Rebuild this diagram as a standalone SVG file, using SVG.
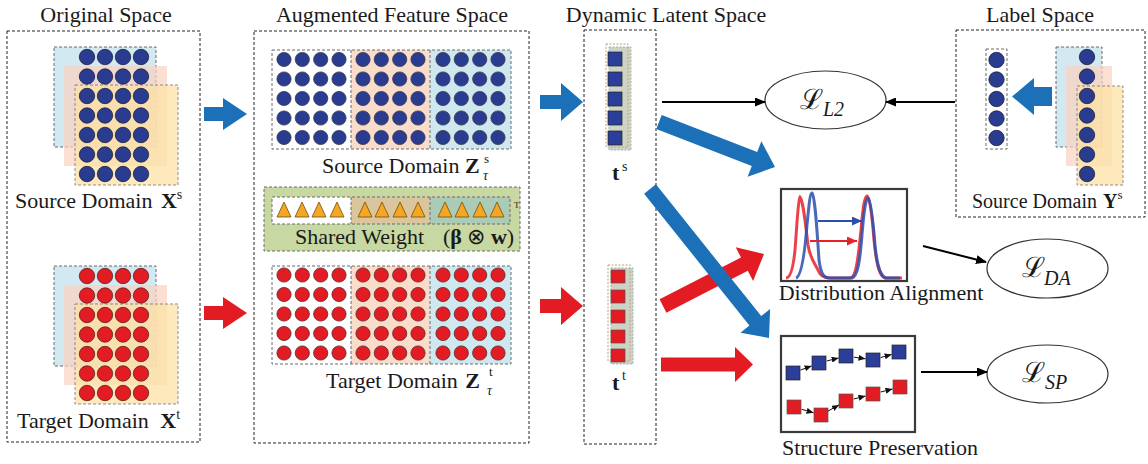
<svg xmlns="http://www.w3.org/2000/svg" width="1148" height="464" viewBox="0 0 1148 464">
<style>
text{font-family:"Liberation Serif","Times New Roman",serif;fill:#1a1a1a}
.t{font-size:22px}
.b{font-weight:bold}
.box{fill:none;stroke:#222;stroke-width:1;stroke-dasharray:3 2}
.dl{stroke:#6a6a6a;stroke-width:1;stroke-dasharray:3 2}
.bl{fill:#d3e9f1}
.pk{fill:#fbd2c0;opacity:0.7}
.yl{fill:#fde2a6;opacity:0.75}
.ba{fill:#1b70b8}
.ra{fill:#e31b23}
.conn{stroke:#000;stroke-width:2;fill:none}
.ell{fill:#fff;stroke:#333;stroke-width:1.2}
.frame{fill:#fff;stroke:#3a3a3a;stroke-width:2.2}
.sqb{fill:#2b3f9a;stroke:#222;stroke-width:0.7}
.sqr{fill:#e31b23;stroke:#555;stroke-width:0.7}
.tri{fill:#f6a623;stroke:#6b5012;stroke-width:0.8}
.sub{font-style:italic;font-size:20px}
.cal{font-size:28px;font-family:"DejaVu Serif","Liberation Serif",serif}
</style>
<defs>
<circle id="cb" r="7.7" fill="#2a3c90" stroke="#20203a" stroke-width="0.8"/>
<circle id="cr" r="7.7" fill="#e31c24" stroke="#5a2020" stroke-width="0.8"/>
<circle id="cbs" r="7.1" fill="#2a3c90" stroke="#3a3a4a" stroke-width="0.8"/>
<circle id="crs" r="7.1" fill="#e31c24" stroke="#5a2a2a" stroke-width="0.8"/>
<marker id="ah" markerWidth="11" markerHeight="9" refX="10" refY="4.5" orient="auto" markerUnits="userSpaceOnUse"><path d="M0,0 L11,4.5 L0,9 Z" fill="#000"/></marker>
<marker id="sa" markerWidth="7" markerHeight="6" refX="7" refY="3" orient="auto" markerUnits="userSpaceOnUse"><path d="M0,0 L7,3 L0,6 Z" fill="#111"/></marker>
<marker id="bah" markerWidth="10" markerHeight="9" refX="10" refY="4.5" orient="auto" markerUnits="userSpaceOnUse"><path d="M0,0 L10,4.5 L0,9 Z" fill="#2c4fae"/></marker>
<marker id="rah" markerWidth="10" markerHeight="9" refX="10" refY="4.5" orient="auto" markerUnits="userSpaceOnUse"><path d="M0,0 L10,4.5 L0,9 Z" fill="#e8212a"/></marker>
</defs>

<g id="original-space">
<rect class="box" x="7" y="31" width="193" height="411"/>
<text class="t" x="106" y="22" text-anchor="middle">Original Space</text>
<g id="source-x">
<rect class="bl dl" x="54" y="47" width="102" height="100"/>
<rect class="pk" x="64" y="66" width="103" height="100"/>
<rect class="yl dl" x="75" y="85" width="103" height="100"/>
<use href="#cb" x="87" y="57"/><use href="#cb" x="105" y="57"/><use href="#cb" x="123" y="57"/><use href="#cb" x="141" y="57"/>
<use href="#cb" x="87" y="76.5"/><use href="#cb" x="105" y="76.5"/><use href="#cb" x="123" y="76.5"/><use href="#cb" x="141" y="76.5"/>
<use href="#cb" x="87" y="96"/><use href="#cb" x="105" y="96"/><use href="#cb" x="123" y="96"/><use href="#cb" x="141" y="96"/>
<use href="#cb" x="87" y="115.5"/><use href="#cb" x="105" y="115.5"/><use href="#cb" x="123" y="115.5"/><use href="#cb" x="141" y="115.5"/>
<use href="#cb" x="87" y="135"/><use href="#cb" x="105" y="135"/><use href="#cb" x="123" y="135"/><use href="#cb" x="141" y="135"/>
<use href="#cb" x="87" y="154.5"/><use href="#cb" x="105" y="154.5"/><use href="#cb" x="123" y="154.5"/><use href="#cb" x="141" y="154.5"/>
<use href="#cb" x="87" y="174"/><use href="#cb" x="105" y="174"/><use href="#cb" x="123" y="174"/><use href="#cb" x="141" y="174"/>
<text class="t" x="15" y="208">Source Domain <tspan class="b" dx="3">X</tspan><tspan font-size="14" dy="-9">s</tspan></text>
</g>
<g id="target-x">
<rect class="bl dl" x="54" y="266" width="102" height="100"/>
<rect class="pk" x="64" y="285" width="103" height="100"/>
<rect class="yl dl" x="75" y="304" width="103" height="100"/>
<use href="#cr" x="87" y="276"/><use href="#cr" x="105" y="276"/><use href="#cr" x="123" y="276"/><use href="#cr" x="141" y="276"/>
<use href="#cr" x="87" y="295.5"/><use href="#cr" x="105" y="295.5"/><use href="#cr" x="123" y="295.5"/><use href="#cr" x="141" y="295.5"/>
<use href="#cr" x="87" y="315"/><use href="#cr" x="105" y="315"/><use href="#cr" x="123" y="315"/><use href="#cr" x="141" y="315"/>
<use href="#cr" x="87" y="334.5"/><use href="#cr" x="105" y="334.5"/><use href="#cr" x="123" y="334.5"/><use href="#cr" x="141" y="334.5"/>
<use href="#cr" x="87" y="354"/><use href="#cr" x="105" y="354"/><use href="#cr" x="123" y="354"/><use href="#cr" x="141" y="354"/>
<use href="#cr" x="87" y="373.5"/><use href="#cr" x="105" y="373.5"/><use href="#cr" x="123" y="373.5"/><use href="#cr" x="141" y="373.5"/>
<use href="#cr" x="87" y="393"/><use href="#cr" x="105" y="393"/><use href="#cr" x="123" y="393"/><use href="#cr" x="141" y="393"/>
<text class="t" x="17" y="428">Target Domain <tspan class="b" dx="6">X</tspan><tspan font-size="14" dy="-9">t</tspan></text>
</g>
</g>

<g id="augmented-space">
<rect class="box" x="254" y="31" width="275" height="412"/>
<text class="t" x="392" y="22" text-anchor="middle">Augmented Feature Space</text>
<g id="source-z">
<rect x="351" y="50" width="79" height="99" fill="#fadcca"/>
<rect x="430" y="50" width="81" height="99" fill="#cfe7ef"/>
<rect class="dl" fill="none" x="272" y="50" width="239" height="99"/>
<line class="dl" x1="351" y1="50" x2="351" y2="149"/>
<line class="dl" x1="430" y1="50" x2="430" y2="149"/>
<use href="#cbs" x="284" y="59.5"/><use href="#cbs" x="302.3" y="59.5"/><use href="#cbs" x="320.7" y="59.5"/><use href="#cbs" x="339" y="59.5"/><use href="#cbs" x="363" y="59.5"/><use href="#cbs" x="381.3" y="59.5"/><use href="#cbs" x="399.7" y="59.5"/><use href="#cbs" x="418" y="59.5"/><use href="#cbs" x="443" y="59.5"/><use href="#cbs" x="461.3" y="59.5"/><use href="#cbs" x="479.7" y="59.5"/><use href="#cbs" x="498" y="59.5"/>
<use href="#cbs" x="284" y="79"/><use href="#cbs" x="302.3" y="79"/><use href="#cbs" x="320.7" y="79"/><use href="#cbs" x="339" y="79"/><use href="#cbs" x="363" y="79"/><use href="#cbs" x="381.3" y="79"/><use href="#cbs" x="399.7" y="79"/><use href="#cbs" x="418" y="79"/><use href="#cbs" x="443" y="79"/><use href="#cbs" x="461.3" y="79"/><use href="#cbs" x="479.7" y="79"/><use href="#cbs" x="498" y="79"/>
<use href="#cbs" x="284" y="98.5"/><use href="#cbs" x="302.3" y="98.5"/><use href="#cbs" x="320.7" y="98.5"/><use href="#cbs" x="339" y="98.5"/><use href="#cbs" x="363" y="98.5"/><use href="#cbs" x="381.3" y="98.5"/><use href="#cbs" x="399.7" y="98.5"/><use href="#cbs" x="418" y="98.5"/><use href="#cbs" x="443" y="98.5"/><use href="#cbs" x="461.3" y="98.5"/><use href="#cbs" x="479.7" y="98.5"/><use href="#cbs" x="498" y="98.5"/>
<use href="#cbs" x="284" y="118"/><use href="#cbs" x="302.3" y="118"/><use href="#cbs" x="320.7" y="118"/><use href="#cbs" x="339" y="118"/><use href="#cbs" x="363" y="118"/><use href="#cbs" x="381.3" y="118"/><use href="#cbs" x="399.7" y="118"/><use href="#cbs" x="418" y="118"/><use href="#cbs" x="443" y="118"/><use href="#cbs" x="461.3" y="118"/><use href="#cbs" x="479.7" y="118"/><use href="#cbs" x="498" y="118"/>
<use href="#cbs" x="284" y="137.5"/><use href="#cbs" x="302.3" y="137.5"/><use href="#cbs" x="320.7" y="137.5"/><use href="#cbs" x="339" y="137.5"/><use href="#cbs" x="363" y="137.5"/><use href="#cbs" x="381.3" y="137.5"/><use href="#cbs" x="399.7" y="137.5"/><use href="#cbs" x="418" y="137.5"/><use href="#cbs" x="443" y="137.5"/><use href="#cbs" x="461.3" y="137.5"/><use href="#cbs" x="479.7" y="137.5"/><use href="#cbs" x="498" y="137.5"/>
<text class="t" x="322" y="173">Source Domain <tspan class="b">Z</tspan></text>
<text x="484" y="163" font-size="13">s</text>
<text x="483" y="180" font-size="14" font-style="italic">τ</text>
</g>
<g id="shared-weight">
<rect x="264" y="187" width="256" height="64" fill="#c7d8a3" class="dl"/>
<rect x="272" y="197" width="79" height="27" fill="#fff"/>
<rect x="351" y="197" width="79" height="27" fill="#dac59d"/>
<rect x="430" y="197" width="80" height="27" fill="#abcbb6"/>
<rect class="dl" fill="none" x="272" y="197" width="238" height="27"/>
<line class="dl" x1="351" y1="197" x2="351" y2="224"/>
<line class="dl" x1="430" y1="197" x2="430" y2="224"/>
<polygon class="tri" points="277,217 284,202 291,217"/><polygon class="tri" points="295,217 302,202 309,217"/><polygon class="tri" points="312,217 319,202 326,217"/><polygon class="tri" points="330,217 337,202 344,217"/>
<polygon class="tri" points="358,217 365,202 372,217"/><polygon class="tri" points="375,217 382,202 389,217"/><polygon class="tri" points="393,217 400,202 407,217"/><polygon class="tri" points="411,217 418,202 425,217"/>
<polygon class="tri" points="438,217 445,202 452,217"/><polygon class="tri" points="455,217 462,202 469,217"/><polygon class="tri" points="473,217 480,202 487,217"/><polygon class="tri" points="490,217 497,202 504,217"/>
<text class="t" x="295" y="244">Shared Weight</text>
<text class="t" x="443" y="244">(<tspan class="b">β</tspan> ⊗ <tspan class="b">w</tspan>)</text>
<text x="514" y="208" font-size="9">T</text>
</g>
<g id="target-z">
<rect x="351" y="266" width="79" height="98" fill="#fadcca"/>
<rect x="430" y="266" width="81" height="98" fill="#cfe7ef"/>
<rect class="dl" fill="none" x="272" y="266" width="239" height="98"/>
<line class="dl" x1="351" y1="266" x2="351" y2="364"/>
<line class="dl" x1="430" y1="266" x2="430" y2="364"/>
<use href="#crs" x="284" y="275"/><use href="#crs" x="302.3" y="275"/><use href="#crs" x="320.7" y="275"/><use href="#crs" x="339" y="275"/><use href="#crs" x="363" y="275"/><use href="#crs" x="381.3" y="275"/><use href="#crs" x="399.7" y="275"/><use href="#crs" x="418" y="275"/><use href="#crs" x="443" y="275"/><use href="#crs" x="461.3" y="275"/><use href="#crs" x="479.7" y="275"/><use href="#crs" x="498" y="275"/>
<use href="#crs" x="284" y="294.5"/><use href="#crs" x="302.3" y="294.5"/><use href="#crs" x="320.7" y="294.5"/><use href="#crs" x="339" y="294.5"/><use href="#crs" x="363" y="294.5"/><use href="#crs" x="381.3" y="294.5"/><use href="#crs" x="399.7" y="294.5"/><use href="#crs" x="418" y="294.5"/><use href="#crs" x="443" y="294.5"/><use href="#crs" x="461.3" y="294.5"/><use href="#crs" x="479.7" y="294.5"/><use href="#crs" x="498" y="294.5"/>
<use href="#crs" x="284" y="314"/><use href="#crs" x="302.3" y="314"/><use href="#crs" x="320.7" y="314"/><use href="#crs" x="339" y="314"/><use href="#crs" x="363" y="314"/><use href="#crs" x="381.3" y="314"/><use href="#crs" x="399.7" y="314"/><use href="#crs" x="418" y="314"/><use href="#crs" x="443" y="314"/><use href="#crs" x="461.3" y="314"/><use href="#crs" x="479.7" y="314"/><use href="#crs" x="498" y="314"/>
<use href="#crs" x="284" y="333.5"/><use href="#crs" x="302.3" y="333.5"/><use href="#crs" x="320.7" y="333.5"/><use href="#crs" x="339" y="333.5"/><use href="#crs" x="363" y="333.5"/><use href="#crs" x="381.3" y="333.5"/><use href="#crs" x="399.7" y="333.5"/><use href="#crs" x="418" y="333.5"/><use href="#crs" x="443" y="333.5"/><use href="#crs" x="461.3" y="333.5"/><use href="#crs" x="479.7" y="333.5"/><use href="#crs" x="498" y="333.5"/>
<use href="#crs" x="284" y="353"/><use href="#crs" x="302.3" y="353"/><use href="#crs" x="320.7" y="353"/><use href="#crs" x="339" y="353"/><use href="#crs" x="363" y="353"/><use href="#crs" x="381.3" y="353"/><use href="#crs" x="399.7" y="353"/><use href="#crs" x="418" y="353"/><use href="#crs" x="443" y="353"/><use href="#crs" x="461.3" y="353"/><use href="#crs" x="479.7" y="353"/><use href="#crs" x="498" y="353"/>
<text class="t" x="326" y="388">Target Domain <tspan class="b" dx="2">Z</tspan></text>
<text x="489" y="376" font-size="13">t</text>
<text x="487" y="395" font-size="14" font-style="italic">τ</text>
</g>
</g>

<g id="latent-space">
<rect class="box" x="584" y="30" width="72" height="414"/>
<text class="t" x="666" y="22" text-anchor="middle">Dynamic Latent Space</text>
<g id="t-source">
<rect x="609" y="47" width="22" height="103" fill="#cdd4c6" stroke="#9eb3c6" stroke-dasharray="2 1.5"/>
<rect x="606" y="44" width="22" height="103" fill="none" stroke="#c9a061" stroke-dasharray="2 1.5"/>
<rect class="sqb" x="608" y="52" width="14" height="14"/>
<rect class="sqb" x="608" y="72" width="14" height="14"/>
<rect class="sqb" x="608" y="92" width="14" height="14"/>
<rect class="sqb" x="608" y="111" width="14" height="14"/>
<rect class="sqb" x="608" y="131" width="14" height="14"/>
<text class="t b" x="612" y="180">t</text>
<text x="622" y="171" font-size="14">s</text>
</g>
<g id="t-target">
<rect x="611" y="268" width="22" height="96" fill="#cdd4c6" stroke="#9eb3c6" stroke-dasharray="2 1.5"/>
<rect x="608" y="265" width="22" height="96" fill="none" stroke="#c9a061" stroke-dasharray="2 1.5"/>
<rect class="sqr" x="611" y="270" width="14" height="13"/>
<rect class="sqr" x="611" y="290" width="14" height="13"/>
<rect class="sqr" x="611" y="310" width="14" height="13"/>
<rect class="sqr" x="611" y="330" width="14" height="13"/>
<rect class="sqr" x="611" y="349" width="14" height="13"/>
<text class="t b" x="612" y="390">t</text>
<text x="622" y="380" font-size="14">t</text>
</g>
</g>

<g id="label-space">
<rect class="box" x="956" y="30" width="189" height="187"/>
<text class="t" x="1040" y="22" text-anchor="middle">Label Space</text>
<rect class="dl" fill="#fff" x="986" y="49" width="21" height="100"/>
<use href="#cb" x="996.5" y="60"/><use href="#cb" x="996.5" y="79.5"/><use href="#cb" x="996.5" y="99"/><use href="#cb" x="996.5" y="118.5"/><use href="#cb" x="996.5" y="138"/>
<polygon class="ba" points="1052,87 1034,87 1034,78 1012,96.5 1034,115 1034,106 1052,106"/>
<rect class="bl dl" x="1056" y="47" width="46" height="100"/>
<rect class="pk" x="1066" y="66" width="46" height="100"/>
<rect class="yl dl" x="1077" y="86" width="46" height="99"/>
<use href="#cb" x="1087" y="57"/><use href="#cb" x="1087" y="76.5"/><use href="#cb" x="1087" y="96"/><use href="#cb" x="1087" y="115.5"/><use href="#cb" x="1087" y="135"/><use href="#cb" x="1087" y="154.5"/><use href="#cb" x="1087" y="174"/>
<text x="972" y="208" font-size="20">Source Domain <tspan class="b" dx="1">Y</tspan><tspan font-size="13" dy="-9">s</tspan></text>
</g>

<g id="distribution-alignment">
<rect class="frame" x="781" y="189" width="126" height="92"/>
<path d="M786,278 C790,278 793,270 795,250 C797,225 798,200 800,197 C803,200 805,220 808,245 C810,258 814,262 818,270 C820,276 824,278 830,278 L850,278 C856,278 858,260 861,230 C863,205 865,196 867,196 C870,198 872,215 874,240 C876,262 879,276 885,278 L902,278" fill="none" stroke="#e8212a" stroke-width="3" opacity="0.85"/>
<path d="M796,278 C802,276 805,250 807,225 C809,205 810,193 812,193 C815,196 817,230 819,260 C821,275 824,278 830,278 L852,278 C858,276 860,260 862,235 C864,210 866,198 868,198 C871,200 873,220 875,245 C877,265 880,276 886,278 L900,278" fill="none" stroke="#2c4fae" stroke-width="3" opacity="0.85"/>
<line x1="818" y1="221" x2="862" y2="221" stroke="#2c4fae" stroke-width="2.2" marker-end="url(#bah)"/>
<line x1="810" y1="241" x2="857" y2="241" stroke="#e8212a" stroke-width="2.2" marker-end="url(#rah)"/>
<text class="t" x="881" y="300" text-anchor="middle">Distribution Alignment</text>
</g>

<g id="structure-preservation">
<rect class="frame" x="781" y="336" width="134" height="96"/>
<rect class="sqb" x="786" y="366" width="14" height="14"/>
<rect class="sqb" x="812" y="356" width="14" height="14"/>
<rect class="sqb" x="839" y="349" width="14" height="14"/>
<rect class="sqb" x="866" y="353" width="14" height="14"/>
<rect class="sqb" x="892" y="345" width="14" height="14"/>
<rect class="sqr" x="787" y="400" width="14" height="14"/>
<rect class="sqr" x="814" y="408" width="14" height="14"/>
<rect class="sqr" x="839" y="394" width="14" height="14"/>
<rect class="sqr" x="866" y="387" width="14" height="14"/>
<rect class="sqr" x="893" y="380" width="14" height="14"/>
<g stroke="#111" stroke-width="1" marker-end="url(#sa)">
<line x1="800.4" y1="370.1" x2="811.6" y2="365.9"/>
<line x1="826.7" y1="361" x2="838.6" y2="358"/>
<line x1="853.9" y1="357.2" x2="865.5" y2="358.8"/>
<line x1="880.6" y1="357.6" x2="891.6" y2="354.4"/>
<line x1="801.7" y1="409.3" x2="813.5" y2="412.7"/>
<line x1="828" y1="411.1" x2="839" y2="404.9"/>
<line x1="853.7" y1="399" x2="865.5" y2="396"/>
<line x1="880.7" y1="392" x2="892.5" y2="389"/>
</g>
<text class="t" x="880" y="455" text-anchor="middle">Structure Preservation</text>
</g>

<g id="loss-l2">
<ellipse class="ell" cx="825.5" cy="100" rx="60.5" ry="29"/>
<text class="cal" x="800" y="109">ℒ</text>
<text class="sub" x="823" y="116">L2</text>
</g>
<g id="loss-da">
<ellipse class="ell" cx="1047.5" cy="268.5" rx="60.5" ry="29.5"/>
<text class="cal" x="1022" y="277">ℒ</text>
<text class="sub" x="1044" y="285">DA</text>
</g>
<g id="loss-sp">
<ellipse class="ell" cx="1047.5" cy="374" rx="60.5" ry="29"/>
<text class="cal" x="1022" y="382">ℒ</text>
<text class="sub" x="1045" y="389">SP</text>
</g>

<g id="connectors">
<polygon class="ba" points="204,107 223,107 223,98 247,114 223,130 223,121 204,121"/>
<polygon class="ra" points="204,306 223,306 223,297 247,313 223,329 223,320 204,320"/>
<polygon class="ba" points="540,95 561,95 561,83 583,102 561,121 561,109 540,109"/>
<polygon class="ra" points="540,299 561,299 561,287 583,306 561,325 561,313 540,313"/>
<polygon class="ba" points="656.3,129 751.8,166 747.6,176.7 775,167 761.4,141.3 757.2,152 661.7,115"/>
<polygon class="ra" points="666.4,312.7 747.8,270.8 753.1,281 764,254 735.7,247.2 741,257.4 659.6,299.3"/>
<polygon class="ba" points="644.1,193.7 749.4,325.5 740.5,332.7 769,338 770.1,308.9 761.2,316.1 655.9,184.3"/>
<polygon class="ra" points="661,357.5 735,357.5 735,347 753,364.5 735,382 735,371.5 661,371.5"/>
<line class="conn" x1="662" y1="102" x2="765" y2="102" marker-end="url(#ah)"/>
<line class="conn" x1="955" y1="102" x2="886" y2="102" marker-end="url(#ah)"/>
<line class="conn" x1="923" y1="246" x2="986" y2="262" marker-end="url(#ah)"/>
<line class="conn" x1="921" y1="372" x2="987" y2="372" marker-end="url(#ah)"/>
</g>
</svg>
